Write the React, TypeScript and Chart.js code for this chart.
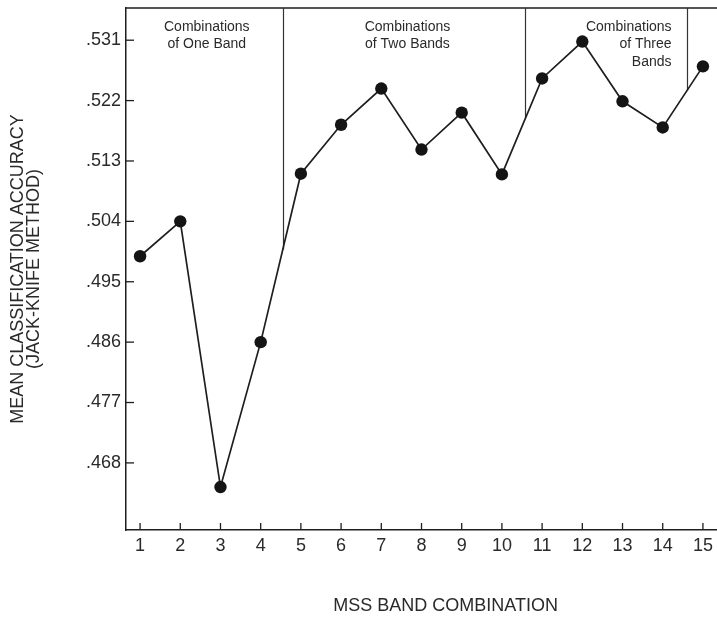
import React, { useEffect, useRef } from 'react';
import { Chart, registerables } from 'chart.js';

Chart.register(...registerables);

// ---- data ----
const COMBINATIONS = [1, 2, 3, 4, 5, 6, 7, 8, 9, 10, 11, 12, 13, 14, 15];
const ACCURACY = [0.4988, 0.504, 0.4644, 0.486, 0.5111, 0.5184, 0.5238, 0.5147, 0.5202, 0.511, 0.5253, 0.5308, 0.5219, 0.518, 0.5271];
const Y_TICKS = [0.468, 0.477, 0.486, 0.495, 0.504, 0.513, 0.522, 0.531];
const X_TICKS = [1, 2, 3, 4, 5, 6, 7, 8, 9, 10, 11, 12, 13, 14, 15];
const DIVIDERS = [4.55, 10.58, 14.6];
const GROUP_X = [2.66, 7.65, 14.22];
const GROUP_LINES = [
  ['Combinations', 'of One Band'],
  ['Combinations', 'of Two Bands'],
  ['Combinations', 'of Three', 'Bands'],
];
const GROUP_ALIGN = ['center', 'center', 'right'];
const Y_TITLE = ['MEAN CLASSIFICATION ACCURACY', '(JACK-KNIFE METHOD)'];
const X_TITLE = 'MSS BAND COMBINATION';

const FONT = '"Liberation Sans", Arial, Helvetica, sans-serif';
const INK = '#1e1e1e';
const TEXT = '#2a2a2a';

const decorPlugin = {
  id: 'decor',
  beforeDatasetsDraw(chart: any) {
    const { ctx, chartArea } = chart;
    const xs = chart.scales.x;
    const ys = chart.scales.y;
    ctx.save();
    // top frame line
    ctx.strokeStyle = INK;
    ctx.lineWidth = 1.5;
    ctx.beginPath();
    ctx.moveTo(chartArea.left, chartArea.top);
    ctx.lineTo(chartArea.right, chartArea.top);
    ctx.stroke();
    // dividers down to the data line
    ctx.lineWidth = 1.2;
    ctx.strokeStyle = '#333';
    DIVIDERS.forEach((d) => {
      const i = COMBINATIONS.findIndex((c) => c > d);
      const x0 = xs.getPixelForValue(COMBINATIONS[i - 1]);
      const x1 = xs.getPixelForValue(COMBINATIONS[i]);
      const y0 = ys.getPixelForValue(ACCURACY[i - 1]);
      const y1 = ys.getPixelForValue(ACCURACY[i]);
      const px = xs.getPixelForValue(d);
      const py = y0 + ((px - x0) / (x1 - x0)) * (y1 - y0);
      ctx.beginPath();
      ctx.moveTo(Math.round(px) + 0.5, chartArea.top);
      ctx.lineTo(Math.round(px) + 0.5, py);
      ctx.stroke();
    });
    // inward tick marks
    ctx.strokeStyle = INK;
    ctx.lineWidth = 1.3;
    Y_TICKS.forEach((v) => {
      const y = ys.getPixelForValue(v);
      ctx.beginPath();
      ctx.moveTo(chartArea.left, y);
      ctx.lineTo(chartArea.left + 8, y);
      ctx.stroke();
    });
    X_TICKS.forEach((v) => {
      const x = xs.getPixelForValue(v);
      ctx.beginPath();
      ctx.moveTo(x, chartArea.bottom);
      ctx.lineTo(x, chartArea.bottom - 7);
      ctx.stroke();
    });
    // group annotations
    ctx.fillStyle = TEXT;
    ctx.font = `14px ${FONT}`;
    ctx.textBaseline = 'middle';
    GROUP_X.forEach((gx, gi) => {
      const x = xs.getPixelForValue(gx);
      ctx.textAlign = GROUP_ALIGN[gi] as CanvasTextAlign;
      GROUP_LINES[gi].forEach((line, li) => {
        ctx.fillText(line, x, chartArea.top + 19 + li * 17.5);
      });
    });
    // x axis title
    ctx.font = `18px ${FONT}`;
    ctx.textAlign = 'center';
    ctx.fillText(X_TITLE, xs.getPixelForValue(8.6), 606);
    ctx.restore();
  },
};

export default function App() {
  const ref = useRef<HTMLCanvasElement>(null);
  useEffect(() => {
    if (!ref.current) return;
    const chart = new Chart(ref.current, {
      type: 'line',
      data: {
        datasets: [
          {
            data: COMBINATIONS.map((x, i) => ({ x, y: ACCURACY[i] })),
            borderColor: INK,
            borderWidth: 1.7,
            pointRadius: 6.2,
            pointBackgroundColor: '#141414',
            pointBorderWidth: 0,
            tension: 0,
            clip: false as any,
          },
        ],
      },
      options: {
        animation: false,
        responsive: false,
        devicePixelRatio: 1,
        layout: { autoPadding: false, padding: { top: 8, right: 0, left: 0, bottom: 0 } },
        plugins: { legend: { display: false }, tooltip: { enabled: false } },
        scales: {
          x: {
            type: 'linear',
            min: 0.65,
            max: 15.35,
            afterBuildTicks: (s: any) => {
              s.ticks = X_TICKS.map((v) => ({ value: v }));
            },
            afterFit: (s: any) => {
              s.height = 87;
              s.paddingLeft = 0;
              s.paddingRight = 0;
            },
            grid: { display: false, drawTicks: false },
            border: { display: true, color: INK, width: 1.5 },
            ticks: {
              autoSkip: false,
              maxRotation: 0,
              padding: 5,
              color: TEXT,
              font: { family: FONT, size: 18 },
              callback: (v: any) => String(v),
            },
            title: { display: false },
          },
          y: {
            min: 0.458,
            max: 0.5358,
            afterBuildTicks: (s: any) => {
              s.ticks = Y_TICKS.map((v) => ({ value: v }));
            },
            afterFit: (s: any) => {
              s.width = 126;
              s.paddingTop = 0;
              s.paddingBottom = 0;
            },
            grid: { display: false, drawTicks: false },
            border: { display: true, color: INK, width: 1.5 },
            ticks: {
              padding: 5,
              color: TEXT,
              font: { family: FONT, size: 18 },
              callback: (v: any) => '.' + Math.round(Number(v) * 1000),
            },
            title: {
              display: true,
              text: Y_TITLE,
              color: TEXT,
              font: { family: FONT, size: 18, lineHeight: 0.9 },
              padding: { top: 9.5, bottom: 0 },
            },
          },
        },
      },
      plugins: [decorPlugin],
    });
    return () => chart.destroy();
  }, []);
  return (
    <div style={{ position: 'absolute', left: 0, top: 0, width: 717, height: 617, background: '#fff' }}>
      <canvas ref={ref} width={717} height={617} style={{ display: 'block' }} />
    </div>
  );
}
